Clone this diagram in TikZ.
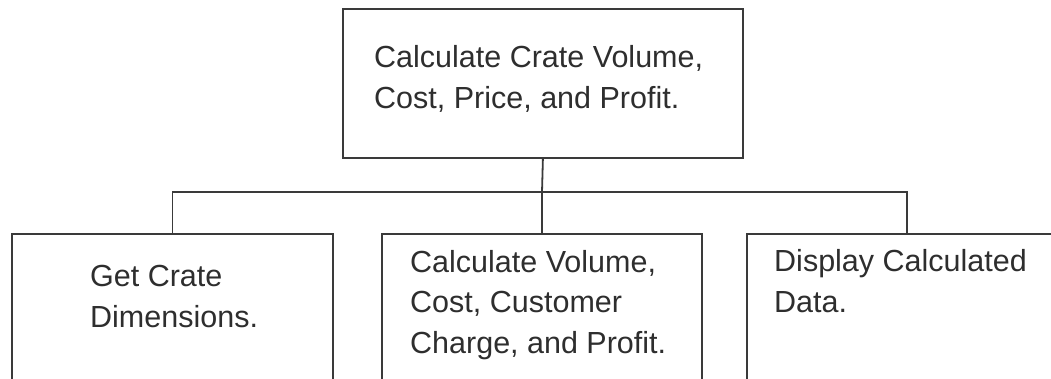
\documentclass[tikz,border=0pt]{standalone}
\usepackage{fontspec}
\setmainfont{Liberation Sans}
\definecolor{ink}{HTML}{2E2E2E}
\definecolor{rule}{HTML}{3A3A3A}
\begin{document}
\begin{tikzpicture}[x=1pt,y=-1pt,
  box/.style={draw=rule,line width=1.8pt,rectangle,inner sep=0pt,anchor=north west},
  txt/.style={anchor=base west,align=left,inner sep=0pt,text=ink,font=\fontsize{30.5}{40.5}\selectfont},
  conn/.style={draw=rule,line width=1.8pt}]
\useasboundingbox (0,0) rectangle (1051,378);
\clip (0,0) rectangle (1051,378);
\node[box,minimum width=400pt,minimum height=149pt] (top) at (342,8) {};
\node[txt] (toptxt) at (374,108) {Calculate Crate Volume,\\Cost, Price, and Profit.};
\node[box,minimum width=321pt,minimum height=200pt] (left) at (11,233) {};
\node[txt] (lefttxt) at (90,327) {Get Crate\\Dimensions.};
\node[box,minimum width=320pt,minimum height=200pt] (mid) at (381,233) {};
\node[txt] (midtxt) at (410,353) {Calculate Volume,\\Cost, Customer\\Charge, and Profit.};
\node[box,minimum width=320pt,minimum height=200pt] (right) at (746,233) {};
\node[txt] (righttxt) at (774,312) {Display Calculated\\Data.};
\coordinate (bus) at (542,192);
\draw[conn] (top.south) -- (bus);
\draw[conn] (left.north) |- (bus) -| (right.north);
\draw[conn] (bus) -- (mid.north);
\end{tikzpicture}
\end{document}
